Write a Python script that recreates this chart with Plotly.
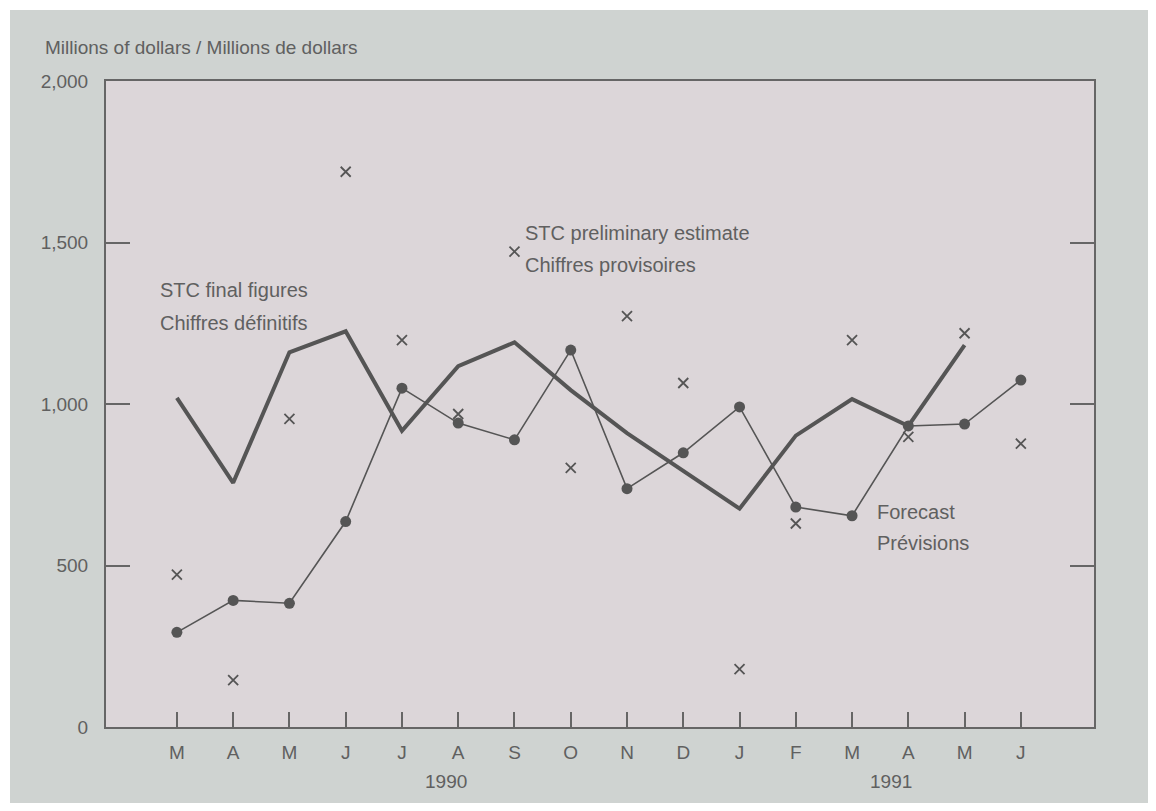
import plotly.graph_objects as go

months = ["M", "A", "M", "J", "J", "A", "S", "O", "N", "D", "J", "F", "M", "A", "M", "J"]
x_idx = list(range(len(months)))

final_figures = [1019, 756, 1160, 1225, 917, 1117, 1191, 1043, 910, 793, 676, 902, 1015, 932, 1182]
preliminary = [472, 145, 954, 1719, 1198, 969, 1472, 802, 1272, 1065, 179, 630, 1198, 898, 1219, 877]
forecast = [293, 392, 383, 636, 1049, 941, 889, 1167, 738, 849, 991, 681, 654, 932, 938, 1074]

y_ticks = [0, 500, 1000, 1500, 2000]
years = [("1990", 4.78), ("1991", 12.7)]

ink = "#555555"
text_col = "#606060"
font_family = "Liberation Sans, Arial, sans-serif"

fig = go.Figure()

fig.add_trace(go.Scatter(
    x=x_idx[:len(final_figures)], y=final_figures, mode="lines",
    line=dict(color=ink, width=4), showlegend=False, hoverinfo="skip"))

fig.add_trace(go.Scatter(
    x=x_idx, y=forecast, mode="lines+markers",
    line=dict(color=ink, width=1.6),
    marker=dict(symbol="circle", size=11, color=ink),
    showlegend=False, hoverinfo="skip"))

fig.add_trace(go.Scatter(
    x=x_idx, y=preliminary, mode="markers",
    marker=dict(symbol="x-thin", size=10, line=dict(color=ink, width=1.8), color=ink),
    showlegend=False, hoverinfo="skip"))

# page offset from default body margin
OFF = 8
W, H = 1156 - OFF, 811 - 2 * OFF
L, T = 106 - OFF, 81 - OFF
R = W - (1094 - OFF)
B = H - (727 - OFF)
pw = W - L - R
ph = H - T - B

def px_to_paper_x(px):
    return (px - OFF - L) / pw

def py_to_paper_y(py):
    return (H - B - (py - OFF)) / ph

def txt(s, x, y, size=20, xanchor="left", xref="paper"):
    return dict(text=s, x=x, y=py_to_paper_y(y), xref=xref, yref="paper",
                xanchor=xanchor, yanchor="middle", showarrow=False,
                font=dict(size=size, color=text_col, family=font_family))

annotations = [
    txt("Millions of dollars / Millions de dollars", px_to_paper_x(43), 47, size=19),
    txt("STC final figures", px_to_paper_x(158), 290),
    txt("Chiffres définitifs", px_to_paper_x(158), 323),
    txt("STC preliminary estimate", px_to_paper_x(523), 233),
    txt("Chiffres provisoires", px_to_paper_x(523), 265),
    txt("Forecast", px_to_paper_x(875), 512),
    txt("Prévisions", px_to_paper_x(875), 543),
]
for label, xpos in years:
    annotations.append(txt(label, xpos, 781, size=19, xanchor="center", xref="x"))

shapes = [
    dict(type="rect", xref="paper", yref="paper",
         x0=px_to_paper_x(OFF - 2), x1=px_to_paper_x(OFF + 2),
         y0=py_to_paper_y(811 + 5), y1=py_to_paper_y(OFF - 2),
         fillcolor="#ffffff", line=dict(width=0), layer="below"),
    dict(type="rect", xref="paper", yref="paper",
         x0=px_to_paper_x(OFF - 2), x1=px_to_paper_x(1156 + 5),
         y0=py_to_paper_y(OFF + 2), y1=py_to_paper_y(OFF - 2),
         fillcolor="#ffffff", line=dict(width=0), layer="below"),
]

fig.update_layout(
    width=W, height=H,
    margin=dict(l=L, r=R, t=T, b=B, pad=0),
    paper_bgcolor="#cfd3d1",
    plot_bgcolor="#dcd6d9",
    font=dict(family=font_family, color=text_col, size=19),
    annotations=annotations,
    shapes=shapes,
    xaxis=dict(
        range=[-1.26, 16.30], tickvals=x_idx, ticktext=months,
        showgrid=False, zeroline=False,
        showline=True, linecolor="#666666", linewidth=2, mirror=True,
        ticks="inside", ticklen=15, tickwidth=1.5, tickcolor="#666666",
        ticklabelstandoff=7,
        tickfont=dict(size=19, color=text_col, family=font_family),
    ),
    yaxis=dict(
        range=[0, 2000], tickvals=y_ticks, tickformat=",",
        showgrid=False, zeroline=False,
        showline=True, linecolor="#666666", linewidth=2, mirror="ticks",
        ticks="inside", ticklen=24, tickwidth=1.5, tickcolor="#666666",
        ticklabelstandoff=12,
        tickfont=dict(size=19, color=text_col, family=font_family),
    ),
)

fig.write_html("out.html")
